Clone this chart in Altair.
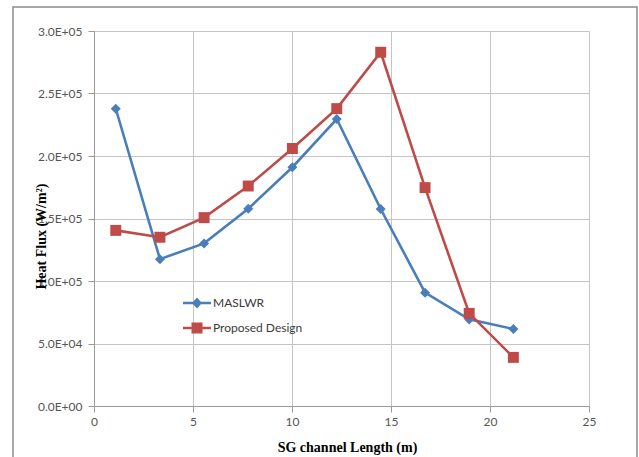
import altair as alt
import pandas as pd

# ---- data ----
length_m = [1.1, 3.33, 5.56, 7.79, 10.02, 12.26, 14.48, 16.72, 18.95, 21.18]
maslwr = [237800, 117500, 130100, 157800, 191000, 229600, 157600, 90700, 69300, 61600]
proposed = [140500, 135000, 150700, 176000, 206000, 237900, 283000, 174700, 74100, 38900]
series_names = ["MASLWR", "Proposed Design"]
series_colors = ["#4a7ebb", "#be4b48"]
series_shapes = ["diamond", "square"]
x_ticks = [0, 5, 10, 15, 20, 25]
y_ticks = [0, 50000, 100000, 150000, 200000, 250000, 300000]
y_tick_labels = ["0.0E+00", "5.0E+04", "1.0E+05", "1.5E+05", "2.0E+05", "2.5E+05", "3.0E+05"]

rows = []
for x, a, b in zip(length_m, maslwr, proposed):
    rows.append({"x": x, "flux": a, "series": series_names[0]})
    rows.append({"x": x, "flux": b, "series": series_names[1]})
df = pd.DataFrame(rows)

label_expr = "''"
for v, lab in reversed(list(zip(y_ticks, y_tick_labels))):
    label_expr = f"datum.value == {v} ? '{lab}' : ({label_expr})"

tick_font = "Lato"
title_font = "Liberation Serif"

x_enc = alt.X(
    "x:Q",
    scale=alt.Scale(domain=[0, 25], nice=False),
    axis=alt.Axis(
        values=x_ticks, title="SG channel Length (m)", titleFont=title_font,
        titleFontSize=14, titleFontWeight="bold", titleColor="#000000",
        titleX=253, titleY=41, titleAlign="center", titleBaseline="middle",
        labelFont=tick_font, labelFontSize=12, labelColor="#555555",
        labelPadding=4, tickSize=6, labelFlush=False,
    ),
)
y_enc = alt.Y(
    "flux:Q",
    scale=alt.Scale(domain=[0, 300000], nice=False),
    axis=alt.Axis(
        values=y_ticks, labelExpr=label_expr, title="Heat Flux (W/m²)",
        titleFont=title_font, titleFontSize=14, titleFontWeight="bold",
        titleColor="#000000", titleX=-53, titleY=205, titleAlign="center",
        titleBaseline="middle", labelFont=tick_font, labelFontSize=12,
        labelColor="#555555", labelPadding=6, tickSize=6,
    ),
)

base = alt.Chart(df).encode(x=x_enc, y=y_enc)

series_layers = []
for name, col, shp in zip(series_names, series_colors, series_shapes):
    sub = base.transform_filter(alt.datum.series == name)
    series_layers.append(sub.mark_line(strokeWidth=2.6, color=col))
    series_layers.append(
        sub.mark_point(shape=shp, filled=True, size=100 if shp == "diamond" else 120,
                       opacity=1, color=col)
    )

leg_line = "M-1.4,-0.12H1.4V0.12H-1.4Z "
legend_paths = [
    leg_line + "M0,-0.55L0.5,0L0,0.55L-0.5,0Z",
    leg_line + "M-0.55,-0.55H0.55V0.55H-0.55Z",
]
legend_props = dict(
    orient="none", legendX=93, legendY=262, title=None, padding=0,
    labelFont=tick_font, labelFontSize=12, labelColor="#3a3a3a",
    symbolSize=400, symbolStrokeWidth=0, symbolOpacity=1,
    rowPadding=9, labelOffset=6,
)
legend_layer = base.mark_point(filled=True, opacity=0).encode(
    color=alt.Color("series:N", scale=alt.Scale(domain=series_names, range=series_colors),
                    legend=alt.Legend(**legend_props)),
    shape=alt.Shape("series:N", scale=alt.Scale(domain=series_names, range=legend_paths),
                    legend=alt.Legend(**legend_props)),
)

frame = alt.Chart(pd.DataFrame({"k": [0]})).mark_rect(
    fill="transparent", stroke="#8c8c8c", strokeWidth=1.5
).encode(x=alt.value(-81), x2=alt.value(543), y=alt.value(-24), y2=alt.value(440))

chart = alt.layer(frame, *series_layers, legend_layer).properties(
    width=495, height=375,
    autosize=alt.AutoSizeParams(type="none"),
    padding={"left": 94, "top": 31, "right": 50, "bottom": 51},
    background="white",
).configure_view(stroke="transparent").configure_axis(
    gridColor="#c4c4c4", gridWidth=1, domainColor="#9a9a9a", tickColor="#9a9a9a",
    domainWidth=1, tickWidth=1,
)

chart.save("out.html", embed_options={"renderer": "svg", "actions": False})
